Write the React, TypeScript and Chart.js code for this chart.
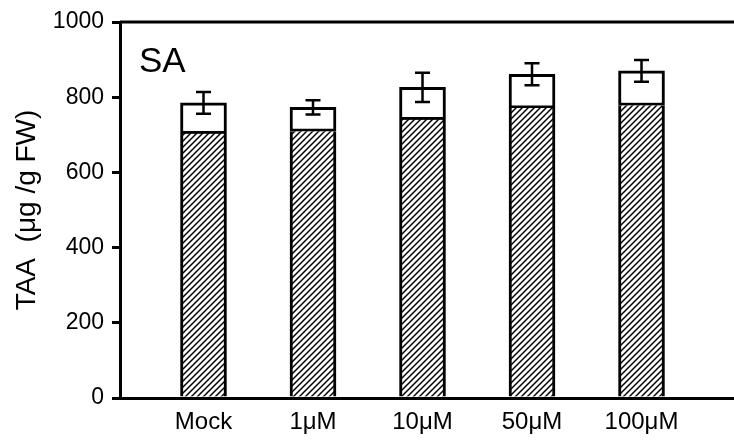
import React, { useEffect, useRef } from "react";
import { Chart, registerables } from "chart.js";

Chart.register(...registerables);

const categories = ["Mock", "1μM", "10μM", "50μM", "100μM"];
const hatchedValues = [703, 709, 740, 771, 778];
const totalValues = [785, 773, 826, 861, 870];
const errorValues = [29, 19, 39, 29, 29];
const yTicks = [0, 200, 400, 600, 800, 1000];
const panelLabel = "SA";
const yTitle = "TAA  (μg /g FW)";

const FONT = '"Liberation Sans", Arial, Helvetica, sans-serif';

function makeHatch(ctx: CanvasRenderingContext2D) {
  const s = 6;
  const c = document.createElement("canvas");
  c.width = s;
  c.height = s;
  const g = c.getContext("2d")!;
  g.fillStyle = "#fff";
  g.fillRect(0, 0, s, s);
  g.strokeStyle = "#000";
  g.lineWidth = 1.5;
  g.beginPath();
  g.moveTo(0, s);
  g.lineTo(s, 0);
  g.moveTo(-1, 1);
  g.lineTo(1, -1);
  g.moveTo(s - 1, s + 1);
  g.lineTo(s + 1, s - 1);
  g.stroke();
  return ctx.createPattern(c, "repeat");
}

export default function App() {
  const ref = useRef<HTMLCanvasElement | null>(null);

  useEffect(() => {
    const canvas = ref.current;
    if (!canvas) return;
    const ctx = canvas.getContext("2d")!;
    const hatch = makeHatch(ctx);

    const extras = {
      id: "extras",
      afterDatasetsDraw(chart: any) {
        const c = chart.ctx;
        const xs = chart.scales.x;
        const ys = chart.scales.y;
        c.save();
        c.strokeStyle = "#000";
        c.lineWidth = 2.5;
        totalValues.forEach((t, i) => {
          const x = xs.getPixelForValue(i);
          const yt = ys.getPixelForValue(t + errorValues[i]);
          const yb = ys.getPixelForValue(t - errorValues[i]);
          c.beginPath();
          c.moveTo(x, yt);
          c.lineTo(x, yb);
          c.moveTo(x - 7.5, yt);
          c.lineTo(x + 7.5, yt);
          c.moveTo(x - 7.5, yb);
          c.lineTo(x + 7.5, yb);
          c.stroke();
        });
        // top frame line
        const a = chart.chartArea;
        c.lineWidth = 3;
        c.beginPath();
        c.moveTo(a.left, a.top);
        c.lineTo(chart.width, a.top);
        c.stroke();
        // panel label
        c.fillStyle = "#000";
        c.font = `35px ${FONT}`;
        c.textBaseline = "alphabetic";
        c.textAlign = "left";
        c.fillText(panelLabel, 139, 72);
        c.restore();
      },
    };

    const chart = new Chart(ctx, {
      type: "bar",
      data: {
        datasets: [
          {
            data: hatchedValues.map((v, i) => ({ x: i, y: v })),
            backgroundColor: hatch as any,
            borderColor: "#000",
            borderWidth: { top: 0, left: 3, right: 3, bottom: 0 } as any,
            borderSkipped: false,
            barThickness: 46,
          },
          {
            data: totalValues.map((v, i) => ({ x: i, y: v - hatchedValues[i] })),
            backgroundColor: "#fff",
            borderColor: "#000",
            borderWidth: 3,
            borderSkipped: false,
            barThickness: 46,
          },
        ],
      },
      options: {
        responsive: false,
        animation: false,
        layout: { padding: { top: 22, left: 0, right: 0, bottom: 0 } },
        plugins: {
          legend: { display: false },
          tooltip: { enabled: false },
        },
        scales: {
          x: {
            type: "linear",
            stacked: true,
            offset: false,
            min: -0.7626,
            max: 5.0821,
            grid: { display: false, drawTicks: false },
            border: { display: true, color: "#000", width: 3 },
            ticks: {
              color: "#000",
              font: { family: FONT, size: 24 },
              padding: 10,
              autoSkip: false,
              maxRotation: 0,
              callback: (v: any) => categories[v] ?? "",
            },
            afterBuildTicks: (s: any) => {
              s.ticks = categories.map((_, i) => ({ value: i }));
            },
            afterFit: (s: any) => {
              s.height = 43;
            },
          },
          y: {
            type: "linear",
            stacked: true,
            min: 0,
            max: 1000,
            grid: {
              drawOnChartArea: false,
              tickLength: 8,
              lineWidth: 3,
              color: "#000",
            },
            border: { display: true, color: "#000", width: 3 },
            ticks: {
              color: "#000",
              font: { family: FONT, size: 23 },
              padding: 8,
              callback: (v: any) => String(v),
            },
            afterBuildTicks: (s: any) => {
              s.ticks = yTicks.map((v) => ({ value: v }));
            },
            title: {
              display: true,
              text: yTitle,
              color: "#000",
              font: { family: FONT, size: 28 },
              padding: { top: 10, bottom: 0 },
            },
            afterFit: (s: any) => {
              s.width = 120;
            },
          },
        },
      },
      plugins: [extras],
    });

    return () => chart.destroy();
  }, []);

  return (
    <div
      style={{
        position: "absolute",
        left: 0,
        top: 0,
        width: 734,
        height: 441,
        overflow: "hidden",
        background: "#fff",
      }}
    >
      <canvas
        ref={ref}
        width={760}
        height={441}
        style={{ width: 760, height: 441, display: "block" }}
      />
    </div>
  );
}
